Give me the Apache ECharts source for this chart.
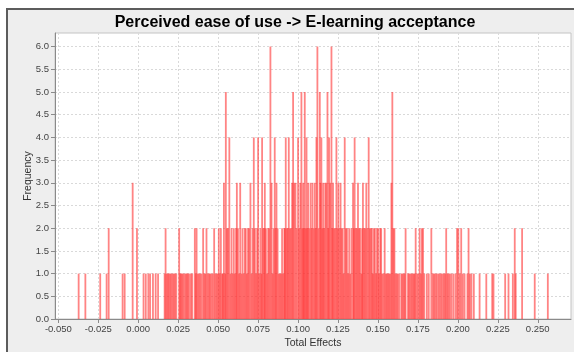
<!DOCTYPE html>
<html><head><meta charset="utf-8">
<script src="https://cdn.jsdelivr.net/npm/echarts@6/dist/echarts.min.js"></script>
<style>
html,body{margin:0;padding:0;background:#fff;}
#wrap{position:relative;width:574px;height:352px;overflow:hidden;}
#frame{position:absolute;left:6px;top:8px;width:620px;height:420px;background:#eeeeee;border:2px solid #5c5c5c;}
#chart{position:absolute;left:0;top:0;width:574px;height:352px;}
</style></head><body>
<div id="wrap"><div id="frame"></div><div id="chart"></div></div>
<script>
const chartTitle = 'Perceived ease of use -> E-learning acceptance';
const xAxisTitle = 'Total Effects';
const yAxisTitle = 'Frequency';
const xTickValues = [-0.05,-0.025,0,0.025,0.05,0.075,0.1,0.125,0.15,0.175,0.2,0.225,0.25];
const yTickValues = [0,0.5,1,1.5,2,2.5,3,3.5,4,4.5,5,5.5,6];

// [total effect, frequency]
const leftTail = [[-0.0373,1],[-0.0331,1],[-0.0238,1],[-0.0198,1],[-0.0185,2],[-0.0098,1],[-0.0085,1],[-0.0035,3],[-0.0008,2],[0.0033,1],[0.0047,1],[0.0063,1],[0.0074,1],[0.0092,1],[0.0109,1],[0.0124,1]];
const lowerCore = [[0.0165,1],[0.0171,2],[0.0178,1],[0.0185,1],[0.0192,1],[0.0200,1],[0.0207,1],[0.0215,1],[0.0222,1],[0.0230,1],[0.0238,1],[0.0256,2],[0.0262,1],[0.0268,1],[0.0275,1],[0.0282,1],[0.0290,1],[0.0298,1],[0.0305,1],[0.0312,1],[0.0320,1],[0.0330,1],[0.0338,1],[0.0354,2],[0.0360,1],[0.0365,2],[0.0372,1],[0.0380,1],[0.0388,1],[0.0396,1],[0.0406,2],[0.0414,1],[0.0420,1],[0.0427,2],[0.0435,1],[0.0443,1],[0.0450,1],[0.0458,1],[0.0466,1],[0.0475,2],[0.0483,1],[0.0490,1],[0.0497,1],[0.0504,2],[0.0510,1],[0.0517,2],[0.0525,1],[0.0530,1],[0.0536,3],[0.0543,1],[0.0548,5],[0.0555,2],[0.0562,2]];
const core = [[0.0570,4],[0.0577,1],[0.0584,2],[0.0591,1],[0.0598,2],[0.0605,1],[0.0612,2],[0.0617,3],[0.0624,2],[0.0631,1],[0.0638,3],[0.0645,1],[0.0652,2],[0.0659,1],[0.0666,2],[0.0673,2],[0.0680,1],[0.0687,2],[0.0694,2],[0.0702,3],[0.0709,1],[0.0716,2],[0.0723,4],[0.0730,2],[0.0737,1],[0.0744,2],[0.0750,4],[0.0757,1],[0.0764,2],[0.0770,1],[0.0775,4],[0.0782,2],[0.0789,2],[0.0792,3],[0.0799,2],[0.0806,1],[0.0813,2],[0.0820,2],[0.0827,6],[0.0834,3],[0.0841,1],[0.0847,2],[0.0854,4],[0.0860,2],[0.0865,3],[0.0872,2],[0.0879,1],[0.0886,1],[0.0893,1],[0.0900,2],[0.0907,1],[0.0914,2],[0.0918,2],[0.0923,4],[0.0930,2],[0.0936,2],[0.0942,4],[0.0949,2],[0.0956,2],[0.0963,3],[0.0969,5],[0.0976,3],[0.0984,3],[0.0991,2],[0.1000,4],[0.1007,2],[0.1014,3],[0.1021,5],[0.1027,2],[0.1032,3],[0.1037,2],[0.1042,5],[0.1048,2],[0.1053,4],[0.1058,2],[0.1063,3],[0.1070,2],[0.1078,3],[0.1084,2],[0.1090,3],[0.1097,2],[0.1104,3],[0.1110,2],[0.1115,4],[0.1121,6],[0.1128,2],[0.1136,5],[0.1141,3],[0.1146,4],[0.1152,2],[0.1157,3],[0.1163,2],[0.1170,3],[0.1177,3],[0.1184,5],[0.1189,2],[0.1194,4],[0.1201,3],[0.1209,6],[0.1214,2],[0.1219,3],[0.1226,2],[0.1233,2],[0.1240,4],[0.1246,2],[0.1252,3],[0.1259,2],[0.1266,3],[0.1272,2],[0.1279,2],[0.1285,1],[0.1292,4],[0.1299,2],[0.1306,2],[0.1313,1],[0.1320,2],[0.1327,1],[0.1334,2],[0.1344,3],[0.1349,2],[0.1354,4],[0.1361,2],[0.1368,2],[0.1375,3],[0.1382,2],[0.1389,2],[0.1396,1],[0.1401,2],[0.1406,3],[0.1413,2],[0.1420,2],[0.1427,3],[0.1434,2],[0.1442,4],[0.1448,2]];
const upperCore = [[0.1455,2],[0.1462,2],[0.1468,1],[0.1474,2],[0.1481,2],[0.1488,1],[0.1494,2],[0.1501,2],[0.1507,1],[0.1514,2],[0.1520,2],[0.1527,1],[0.1535,1],[0.1542,2],[0.1549,1],[0.1556,1],[0.1563,1],[0.1570,1],[0.1577,1],[0.1584,3],[0.1590,5],[0.1597,2],[0.1603,2],[0.1610,1],[0.1617,1],[0.1624,1],[0.1633,1],[0.1646,1],[0.1653,1],[0.1660,1],[0.1667,1],[0.1673,2],[0.1688,1],[0.1695,1],[0.1703,1],[0.1710,1],[0.1717,1],[0.1724,1],[0.1730,1],[0.1736,2],[0.1745,1],[0.1754,1],[0.1761,2],[0.1768,1],[0.1775,2],[0.1782,2],[0.1790,1],[0.1806,1],[0.1818,1],[0.1834,2],[0.1844,1],[0.1852,1],[0.1860,1],[0.1868,1],[0.1878,1],[0.1886,1],[0.1895,1],[0.1904,1],[0.1912,1],[0.1920,1],[0.1927,2],[0.1935,1],[0.1941,1]];
const rightTail = [[0.1950,1],[0.1960,1],[0.1972,1],[0.1985,1],[0.1995,2],[0.2003,2],[0.2012,1],[0.2021,2],[0.2031,1],[0.2042,1],[0.2060,1],[0.2067,2],[0.2075,1],[0.2085,1],[0.2100,1],[0.2136,1],[0.2178,1],[0.2215,1],[0.2223,1],[0.2296,1],[0.2317,1],[0.2344,1],[0.2356,2],[0.2362,1],[0.2402,2],[0.2481,1],[0.2563,1]];

const bins = leftTail.concat(lowerCore, core, upperCore, rightTail);

const FONT = 'Liberation Sans, Arial, sans-serif';
const isTick = (v, step) => Math.abs(v / step - Math.round(v / step)) < 1e-6;

const chart = echarts.init(document.getElementById('chart'), null, {renderer: 'canvas'});
chart.setOption({
  animation: false,
  backgroundColor: 'transparent',
  grid: {left: 55, top: 33, right: 3, bottom: 33, show: true, backgroundColor: '#ffffff', borderColor: '#c4c4c4', borderWidth: 1, containLabel: false},
  xAxis: {
    type: 'value', min: -0.0521, max: 0.2708, minInterval: 0.025, maxInterval: 0.025,
    axisLine: {show: true, onZero: false, lineStyle: {color: '#8a8a8a', width: 1}},
    axisTick: {show: true, length: 4, lineStyle: {color: '#8a8a8a'}, customValues: xTickValues},
    axisLabel: {customValues: xTickValues, margin: 5, fontSize: 9.5, fontFamily: FONT, color: '#444',
      formatter: v => isTick(v, 0.025) ? v.toFixed(3) : ''},
    splitLine: {show: true, lineStyle: {color: '#d9d9d9', type: [2, 2], width: 1}}
  },
  yAxis: {
    type: 'value', min: 0, max: 6.3, minInterval: 0.5, maxInterval: 0.5,
    axisLine: {show: true, onZero: false, lineStyle: {color: '#8a8a8a', width: 1}},
    axisTick: {show: true, length: 4, lineStyle: {color: '#8a8a8a'}, customValues: yTickValues},
    axisLabel: {customValues: yTickValues, margin: 6, fontSize: 9.5, fontFamily: FONT, color: '#444',
      formatter: v => isTick(v, 0.5) ? v.toFixed(1) : ''},
    splitLine: {show: true, lineStyle: {color: '#d9d9d9', type: [2, 2], width: 1}}
  },
  series: [{
    type: 'bar', data: bins, barWidth: 1.8, barGap: '-100%',
    itemStyle: {color: 'rgba(255,50,50,0.6)'},
    emphasis: {disabled: true}
  }],
  graphic: [
    {type: 'text', x: 295, y: 23, style: {text: chartTitle, font: 'bold 16px ' + FONT, fill: '#000', textAlign: 'center', textVerticalAlign: 'middle'}},
    {type: 'text', x: 313, y: 343, style: {text: xAxisTitle, font: '10.5px ' + FONT, fill: '#333', textAlign: 'center', textVerticalAlign: 'middle'}},
    {type: 'text', x: 28, y: 176, rotation: Math.PI / 2, style: {text: yAxisTitle, font: '10.5px ' + FONT, fill: '#333', textAlign: 'center', textVerticalAlign: 'middle'}}
  ]
});
</script>
</body></html>
